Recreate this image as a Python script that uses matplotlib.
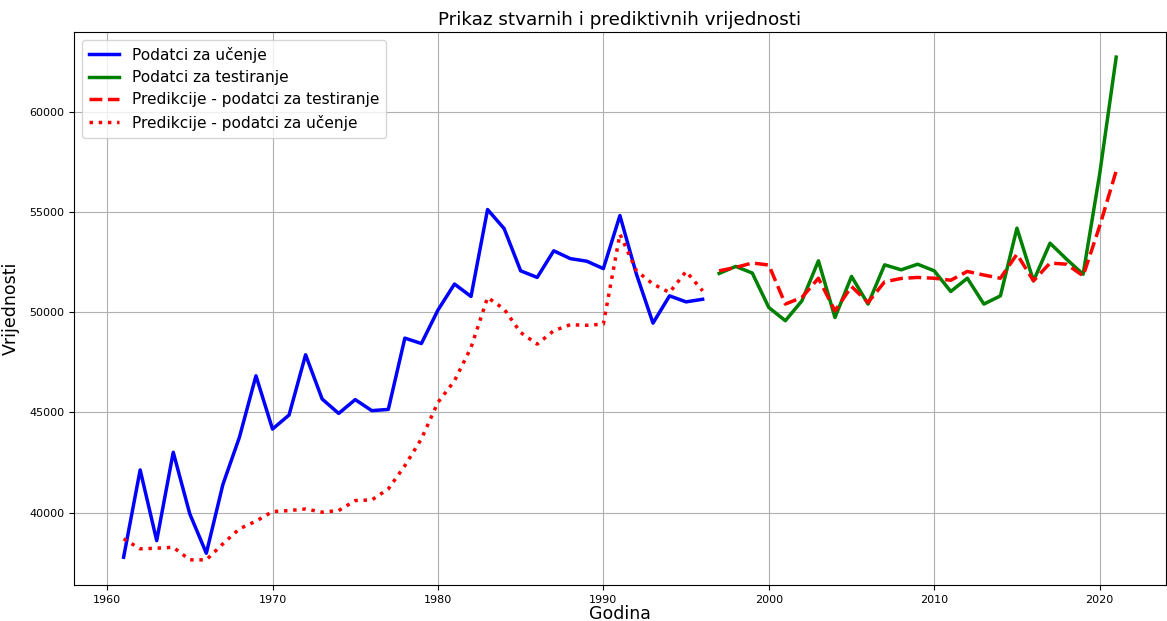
import matplotlib
matplotlib.use("Agg")
import matplotlib.pyplot as plt

train_years = list(range(1961, 1997))
train_vals = [37770, 42130, 38600, 43010, 39935, 37970, 41400, 43760, 46830, 44170,
              44870, 47880, 45670, 44950, 45640, 45090, 45150, 48710, 48440, 50110,
              51410, 50790, 55130, 54180, 52070, 51740, 53070, 52680, 52550, 52180,
              54830, 51900, 49460, 50820, 50520, 50650]
train_pred = [38690, 38190, 38220, 38270, 37640, 37640, 38440, 39190, 39570, 40050,
              40100, 40180, 40020, 40100, 40600, 40630, 41180, 42340, 43680, 45500,
              46580, 48240, 50740, 50160, 48990, 48410, 49080, 49380, 49350, 49410,
              53900, 52070, 51410, 50990, 52040, 51070]

test_years = list(range(1997, 2022))
test_vals = [51940, 52290, 51960, 50240, 49580, 50570, 52570, 49740, 51790, 50410,
             52370, 52120, 52400, 52070, 51040, 51700, 50410, 50820, 54200, 51570,
             53450, 52650, 51900, 56900, 62740]
test_pred = [52070, 52240, 52460, 52360, 50410, 50740, 51700, 50070, 51290, 50490,
             51520, 51690, 51740, 51700, 51600, 52040, 51860, 51700, 52900, 51570,
             52460, 52400, 51820, 54300, 57060]

fig = plt.figure(figsize=(11.67, 6.21), dpi=100)
ax = fig.add_axes([0.0634, 0.058, 0.9356, 0.8905])

ax.plot(train_years, train_vals, color="blue", lw=2.5, label="Podatci za učenje")
ax.plot(test_years, test_vals, color="green", lw=2.5, label="Podatci za testiranje")
ax.plot(test_years, test_pred, color="red", lw=2.5, ls="--", label="Predikcije - podatci za testiranje")
ax.plot(train_years, train_pred, color="red", lw=2.5, ls=":", label="Predikcije - podatci za učenje")

ax.set_title("Prikaz stvarnih i prediktivnih vrijednosti", fontsize=13.2, pad=5)
ax.set_xlabel("Godina", fontsize=12.5, labelpad=0)
ax.set_ylabel("Vrijednosti", fontsize=12.5, labelpad=7)
ax.tick_params(labelsize=8)
ax.grid(True, color="#b0b0b0", lw=0.8)
ax.legend(loc="upper left", fontsize=11.1, handlelength=2.0, borderpad=0.45, labelspacing=0.48)

fig.savefig("out.png", dpi=100)
